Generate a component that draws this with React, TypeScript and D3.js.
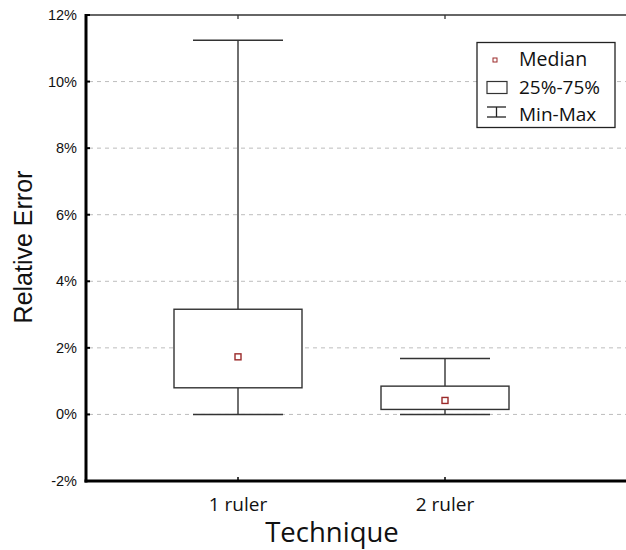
import React from "react";
import * as d3 from "d3";

const categories = ["1 ruler", "2 ruler"];
const medians = [1.73, 0.42];
const q1s = [0.8, 0.15];
const q3s = [3.16, 0.85];
const mins = [0.0, 0.0];
const maxs = [11.24, 1.68];
const yTicks = [-2, 0, 2, 4, 6, 8, 10, 12];
const gridTicks = [0, 2, 4, 6, 8, 10];

const W = 626;
const H = 550;
const left = 86;
const right = 626;
const top = 15;
const bottom = 481;

export default function App() {
  const y = d3.scaleLinear().domain([-2, 12]).range([bottom, top]);
  const x = d3.scalePoint<string>().domain(categories).range([238, 445]);
  const boxW = 128;
  const capW = 90;
  const tickFont = "'Liberation Sans', Arial, sans-serif";
  const catFont = "'Open Sans', 'Noto Sans', sans-serif";
  return (
    <svg width={W} height={H} style={{ position: "absolute", left: 0, top: 0, background: "#fff" }}>
      <rect x={0} y={0} width={W} height={H} fill="#fff" />
      {gridTicks.map((t) => (
        <line key={"g" + t} x1={left + 3} x2={right} y1={y(t)} y2={y(t)} stroke="#bdbdbd" strokeWidth={1} strokeDasharray="4,4" />
      ))}
      {/* top frame line */}
      <line x1={left} x2={right} y1={top} y2={top} stroke="#333" strokeWidth={1.5} />
      {categories.map((c) => (
        <g key={"t" + c}>
          <line x1={x(c)!} x2={x(c)!} y1={top} y2={top + 4} stroke="#333" strokeWidth={1.3} />
          <line x1={x(c)!} x2={x(c)!} y1={bottom} y2={bottom - 4} stroke="#000" strokeWidth={1.5} />
        </g>
      ))}
      {/* boxes */}
      {categories.map((c, i) => {
        const cx = x(c)!;
        return (
          <g key={"b" + c} stroke="#333" strokeWidth={1.4} fill="none">
            <line x1={cx} x2={cx} y1={y(maxs[i])} y2={y(q3s[i])} />
            <line x1={cx} x2={cx} y1={y(q1s[i])} y2={y(mins[i])} />
            <line x1={cx - capW / 2} x2={cx + capW / 2} y1={y(maxs[i])} y2={y(maxs[i])} />
            <line x1={cx - capW / 2} x2={cx + capW / 2} y1={y(mins[i])} y2={y(mins[i])} />
            <rect x={cx - boxW / 2} y={y(q3s[i])} width={boxW} height={y(q1s[i]) - y(q3s[i])} fill="#fff" />
            <rect x={cx - 3} y={y(medians[i]) - 3} width={6} height={6} fill="#fff" stroke="#9b2a2a" strokeWidth={1.4} />
          </g>
        );
      })}
      {/* axes */}
      <line x1={left} x2={left} y1={top - 1} y2={bottom + 1.5} stroke="#000" strokeWidth={3} />
      <line x1={left - 1.5} x2={right} y1={bottom} y2={bottom} stroke="#000" strokeWidth={3} />
      {yTicks.map((t) => (
        <g key={"y" + t}>
          <line x1={left} x2={left + 4} y1={y(t)} y2={y(t)} stroke="#000" strokeWidth={2} />
          <text x={77} y={y(t) + 5} textAnchor="end" fontSize={14.5} fontFamily={tickFont} fill="#111">
            {t + "%"}
          </text>
        </g>
      ))}
      {categories.map((c) => (
        <text key={"c" + c} x={x(c)!} y={510.5} textAnchor="middle" fontSize={19} fontFamily={catFont} fill="#111">
          {c}
        </text>
      ))}
      <text x={332} y={542} textAnchor="middle" fontSize={27.5} fontFamily={catFont} fill="#111">
        Technique
      </text>
      <text transform={`translate(32,247) rotate(-90)`} textAnchor="middle" fontSize={25} fontFamily={tickFont} fill="#111">
        Relative Error
      </text>
      {/* legend */}
      <g>
        <rect x={477} y={42.5} width={138} height={85} fill="#fff" stroke="#222" strokeWidth={1.3} />
        <rect x={493} y={58} width={4} height={4} fill="#fff" stroke="#9b2a2a" strokeWidth={1} />
        <text x={519} y={66} fontSize={19.5} fontFamily={catFont} fill="#111">Median</text>
        <rect x={487} y={81.5} width={20} height={12} fill="#fff" stroke="#333" strokeWidth={1.2} />
        <text x={519} y={94} fontSize={19} fontFamily={catFont} fill="#111">25%-75%</text>
        <g stroke="#222" strokeWidth={1.3}>
          <line x1={487} x2={506} y1={107} y2={107} />
          <line x1={487} x2={506} y1={117} y2={117} />
          <line x1={496.5} x2={496.5} y1={107} y2={117} />
        </g>
        <text x={519} y={121} fontSize={19} fontFamily={catFont} fill="#111">Min-Max</text>
      </g>
    </svg>
  );
}
